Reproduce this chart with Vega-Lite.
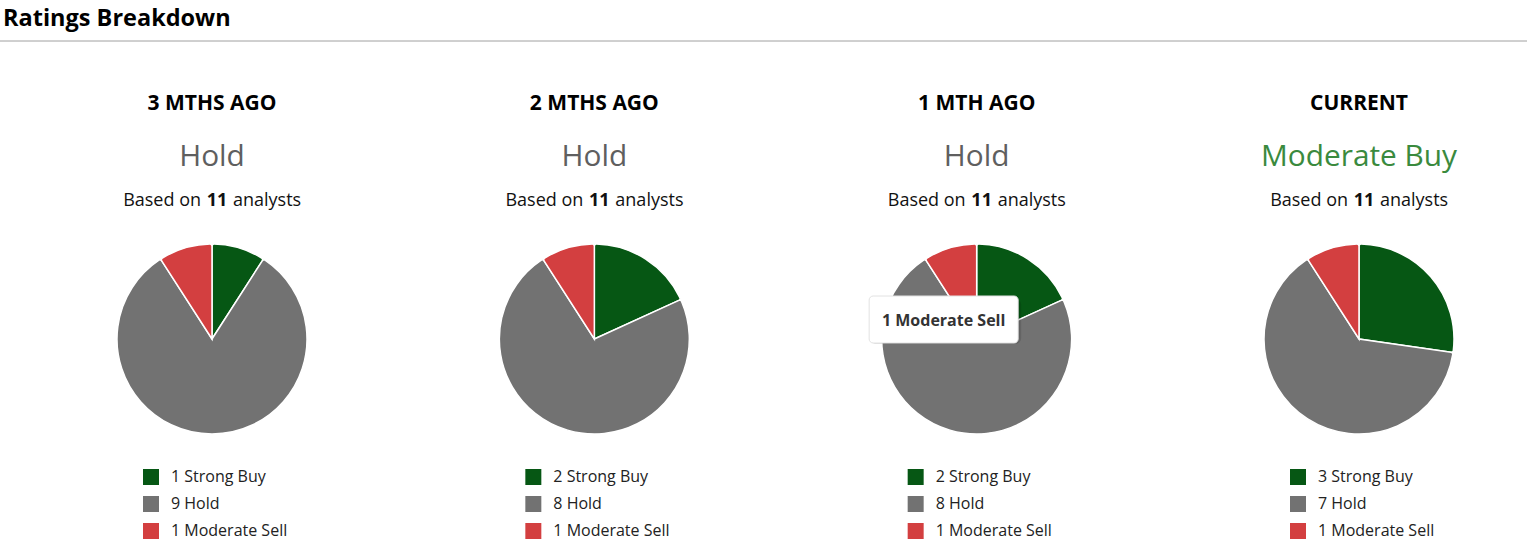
{
  "$schema": "https://vega.github.io/schema/vega-lite/v6.json",
  "width": 1527,
  "height": 514,
  "autosize": "none",
  "padding": {"top": 41, "left": 0, "right": 0, "bottom": 0},
  "background": "#ffffff",
  "config": {"view": {"stroke": null}, "font": "Open Sans", "text": {"font": "Open Sans"}},
  "title": {"text": "Ratings Breakdown", "anchor": "start", "frame": "group", "fontSize": 23.5, "fontWeight": "bold", "font": "Open Sans", "color": "#000000", "baseline": "alphabetic", "offset": 16, "dx": 3, "dy": 25},
  "datasets": {
    "summary": [
      {"period": "3 MTHS AGO", "consensus": "Hold", "analysts": 11},
      {"period": "2 MTHS AGO", "consensus": "Hold", "analysts": 11},
      {"period": "1 MTH AGO", "consensus": "Hold", "analysts": 11},
      {"period": "CURRENT", "consensus": "Moderate Buy", "analysts": 11}
    ],
    "ratings": [
      {"period": "3 MTHS AGO", "rating": "Strong Buy", "count": 1, "label": "1 Strong Buy"},
      {"period": "3 MTHS AGO", "rating": "Hold", "count": 9, "label": "9 Hold"},
      {"period": "3 MTHS AGO", "rating": "Moderate Sell", "count": 1, "label": "1 Moderate Sell"},
      {"period": "2 MTHS AGO", "rating": "Strong Buy", "count": 2, "label": "2 Strong Buy"},
      {"period": "2 MTHS AGO", "rating": "Hold", "count": 8, "label": "8 Hold"},
      {"period": "2 MTHS AGO", "rating": "Moderate Sell", "count": 1, "label": "1 Moderate Sell"},
      {"period": "1 MTH AGO", "rating": "Strong Buy", "count": 2, "label": "2 Strong Buy"},
      {"period": "1 MTH AGO", "rating": "Hold", "count": 8, "label": "8 Hold"},
      {"period": "1 MTH AGO", "rating": "Moderate Sell", "count": 1, "label": "1 Moderate Sell"},
      {"period": "CURRENT", "rating": "Strong Buy", "count": 3, "label": "3 Strong Buy"},
      {"period": "CURRENT", "rating": "Hold", "count": 7, "label": "7 Hold"},
      {"period": "CURRENT", "rating": "Moderate Sell", "count": 1, "label": "1 Moderate Sell"}
    ]
  },
  "layer": [
    {
      "data": {"name": "summary"},
      "layer": [
        {
          "mark": {"type": "rule", "color": "#cccccc", "strokeWidth": 1},
          "encoding": {"y": {"datum": 0, "type": "quantitative", "scale": {"domain": [0, 514], "reverse": true, "nice": false}, "axis": null}}
        },
        {
          "mark": {"type": "text", "fontSize": 21, "fontWeight": "bold", "baseline": "alphabetic", "align": "center", "fill": "#000000"},
          "encoding": {
            "x": {"field": "period", "type": "nominal", "scale": {"type": "point", "domain": ["3 MTHS AGO", "2 MTHS AGO", "1 MTH AGO", "CURRENT"], "range": [212, 1359], "padding": 0}, "axis": null},
            "y": {"datum": 69, "type": "quantitative", "scale": {"domain": [0, 514], "reverse": true, "nice": false}, "axis": null},
            "text": {"field": "period"}
          }
        },
        {
          "mark": {"type": "text", "fontSize": 29.8, "baseline": "alphabetic", "align": "center"},
          "encoding": {
            "x": {"field": "period", "type": "nominal", "scale": {"type": "point", "domain": ["3 MTHS AGO", "2 MTHS AGO", "1 MTH AGO", "CURRENT"], "range": [212, 1359], "padding": 0}, "axis": null},
            "y": {"datum": 125, "type": "quantitative", "axis": null},
            "text": {"field": "consensus"},
            "fill": {"field": "consensus", "type": "nominal", "scale": {"domain": ["Hold", "Moderate Buy"], "range": ["#5f5f5f", "#3a8a3e"]}, "legend": null}
          }
        },
        {
          "mark": {"type": "text", "fontSize": 18, "baseline": "alphabetic", "align": "right", "dx": -11, "fill": "#111111", "text": "Based on"},
          "encoding": {
            "x": {"field": "period", "type": "nominal", "scale": {"type": "point", "domain": ["3 MTHS AGO", "2 MTHS AGO", "1 MTH AGO", "CURRENT"], "range": [212, 1359], "padding": 0}, "axis": null},
            "y": {"datum": 165, "type": "quantitative", "axis": null}
          }
        },
        {
          "mark": {"type": "text", "fontSize": 18, "fontWeight": "bold", "baseline": "alphabetic", "align": "center", "dx": 5, "fill": "#111111"},
          "encoding": {
            "x": {"field": "period", "type": "nominal", "scale": {"type": "point", "domain": ["3 MTHS AGO", "2 MTHS AGO", "1 MTH AGO", "CURRENT"], "range": [212, 1359], "padding": 0}, "axis": null},
            "y": {"datum": 165, "type": "quantitative", "axis": null},
            "text": {"field": "analysts"}
          }
        },
        {
          "mark": {"type": "text", "fontSize": 18, "baseline": "alphabetic", "align": "left", "dx": 21, "fill": "#111111", "text": "analysts"},
          "encoding": {
            "x": {"field": "period", "type": "nominal", "scale": {"type": "point", "domain": ["3 MTHS AGO", "2 MTHS AGO", "1 MTH AGO", "CURRENT"], "range": [212, 1359], "padding": 0}, "axis": null},
            "y": {"datum": 165, "type": "quantitative", "axis": null}
          }
        }
      ]
    },
    {
      "data": {"name": "ratings"},
      "transform": [{"stack": "count", "groupby": ["period"], "as": ["t0", "t1"]}],
      "layer": [
        {
          "mark": {"type": "arc", "outerRadius": 95, "stroke": "#ffffff", "strokeWidth": 1.5, "cornerRadius": 2},
          "encoding": {
            "x": {"field": "period", "type": "nominal", "scale": {"type": "point", "domain": ["3 MTHS AGO", "2 MTHS AGO", "1 MTH AGO", "CURRENT"], "range": [212, 1359], "padding": 0}, "axis": null},
            "y": {"datum": 298, "type": "quantitative", "scale": {"domain": [0, 514], "reverse": true, "nice": false}, "axis": null},
            "theta": {"field": "t0", "type": "quantitative", "scale": {"domain": [0, 11]}, "stack": null},
            "theta2": {"field": "t1"},
            "color": {"field": "rating", "type": "nominal", "scale": {"domain": ["Strong Buy", "Hold", "Moderate Sell"], "range": ["#065714", "#727272", "#d33f40"]}, "legend": null}
          }
        },
        {
          "transform": [{"filter": "datum.period === '1 MTH AGO' && datum.rating === 'Moderate Sell'"}],
          "mark": {"type": "rect", "width": 151, "xOffset": -31, "yOffset": 3, "cornerRadius": 6, "fill": "#000000", "opacity": 0.12},
          "encoding": {
            "x": {"field": "period", "type": "nominal", "scale": {"type": "point", "domain": ["3 MTHS AGO", "2 MTHS AGO", "1 MTH AGO", "CURRENT"], "range": [212, 1359], "padding": 0}, "axis": null},
            "y": {"datum": 255, "type": "quantitative", "axis": null},
            "y2": {"datum": 303}
          }
        },
        {
          "transform": [{"filter": "datum.period === '1 MTH AGO' && datum.rating === 'Moderate Sell'"}],
          "mark": {"type": "rect", "width": 149, "xOffset": -32, "yOffset": 2, "cornerRadius": 5, "fill": "#000000", "opacity": 0.2},
          "encoding": {
            "x": {"field": "period", "type": "nominal", "scale": {"type": "point", "domain": ["3 MTHS AGO", "2 MTHS AGO", "1 MTH AGO", "CURRENT"], "range": [212, 1359], "padding": 0}, "axis": null},
            "y": {"datum": 255, "type": "quantitative", "axis": null},
            "y2": {"datum": 302}
          }
        },
        {
          "transform": [{"filter": "datum.period === '1 MTH AGO' && datum.rating === 'Moderate Sell'"}],
          "mark": {"type": "rect", "width": 149, "xOffset": -33, "cornerRadius": 4, "fill": "#ffffff", "stroke": "#e2e2e2", "strokeWidth": 1},
          "encoding": {
            "x": {"field": "period", "type": "nominal", "scale": {"type": "point", "domain": ["3 MTHS AGO", "2 MTHS AGO", "1 MTH AGO", "CURRENT"], "range": [212, 1359], "padding": 0}, "axis": null},
            "y": {"datum": 255, "type": "quantitative", "axis": null},
            "y2": {"datum": 302}
          }
        },
        {
          "transform": [{"filter": "datum.period === '1 MTH AGO' && datum.rating === 'Moderate Sell'"}],
          "mark": {"type": "text", "fontSize": 16, "fontWeight": "bold", "baseline": "alphabetic", "align": "center", "dx": -33, "fill": "#333333"},
          "encoding": {
            "x": {"field": "period", "type": "nominal", "scale": {"type": "point", "domain": ["3 MTHS AGO", "2 MTHS AGO", "1 MTH AGO", "CURRENT"], "range": [212, 1359], "padding": 0}, "axis": null},
            "y": {"datum": 285, "type": "quantitative", "axis": null},
            "text": {"field": "label"}
          }
        }
      ]
    },
    {
      "data": {"name": "ratings"},
      "layer": [
        {
          "mark": {"type": "square", "size": 256, "filled": true, "opacity": 1, "xOffset": -61},
          "encoding": {
            "x": {"field": "period", "type": "nominal", "scale": {"type": "point", "domain": ["3 MTHS AGO", "2 MTHS AGO", "1 MTH AGO", "CURRENT"], "range": [212, 1359], "padding": 0}, "axis": null},
            "y": {"field": "rating", "type": "nominal", "scale": {"type": "point", "domain": ["Strong Buy", "Hold", "Moderate Sell"], "range": [436, 490], "padding": 0}, "axis": null},
            "color": {"field": "rating", "type": "nominal", "scale": {"domain": ["Strong Buy", "Hold", "Moderate Sell"], "range": ["#065714", "#727272", "#d33f40"]}, "legend": null}
          }
        },
        {
          "mark": {"type": "text", "fontSize": 16, "baseline": "middle", "align": "left", "dx": -41, "fill": "#222222"},
          "encoding": {
            "x": {"field": "period", "type": "nominal", "scale": {"type": "point", "domain": ["3 MTHS AGO", "2 MTHS AGO", "1 MTH AGO", "CURRENT"], "range": [212, 1359], "padding": 0}, "axis": null},
            "y": {"field": "rating", "type": "nominal", "scale": {"type": "point", "domain": ["Strong Buy", "Hold", "Moderate Sell"], "range": [436, 490], "padding": 0}, "axis": null},
            "text": {"field": "label"}
          }
        }
      ]
    }
  ],
  "resolve": {"scale": {"y": "independent"}}
}
